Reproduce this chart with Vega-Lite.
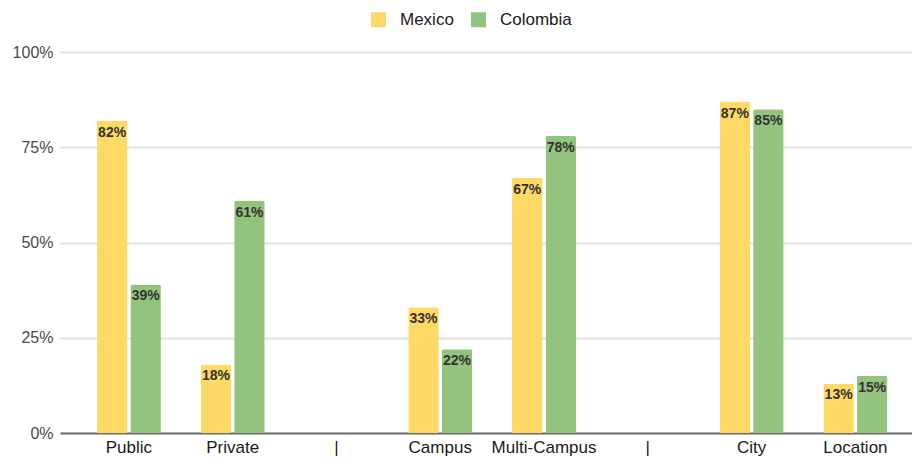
{
  "$schema": "https://vega.github.io/schema/vega-lite/v6.json",
  "width": 852,
  "height": 381,
  "autosize": {"type": "none"},
  "padding": {"left": 60, "top": 52, "right": 0, "bottom": 28},
  "background": "white",
  "config": {
    "view": {"stroke": null},
    "font": "Liberation Sans"
  },
  "data": {
    "values": [
      {"category": "Public", "country": "Mexico", "share": 0.82},
      {"category": "Public", "country": "Colombia", "share": 0.39},
      {"category": "Private", "country": "Mexico", "share": 0.18},
      {"category": "Private", "country": "Colombia", "share": 0.61},
      {"category": "Campus", "country": "Mexico", "share": 0.33},
      {"category": "Campus", "country": "Colombia", "share": 0.22},
      {"category": "Multi-Campus", "country": "Mexico", "share": 0.67},
      {"category": "Multi-Campus", "country": "Colombia", "share": 0.78},
      {"category": "City", "country": "Mexico", "share": 0.87},
      {"category": "City", "country": "Colombia", "share": 0.85},
      {"category": "Location", "country": "Mexico", "share": 0.13},
      {"category": "Location", "country": "Colombia", "share": 0.15}
    ]
  },
  "encoding": {
    "x": {
      "field": "category",
      "type": "nominal",
      "scale": {
        "domain": ["Public", "Private", "|", "Campus", "Multi-Campus", "| ", "City", "Location"],
        "paddingInner": 0.383,
        "paddingOuter": 0.296,
        "align": 0.6
      },
      "axis": {
        "title": null,
        "labelAngle": 0,
        "labelFontSize": 17,
        "labelColor": "#1a1a1a",
        "labelPadding": 6,
        "labelExpr": "datum.label == '| ' ? '|' : datum.label",
        "ticks": false,
        "domainColor": "#6f6f6f",
        "domainWidth": 2,
        "grid": false
      }
    },
    "xOffset": {
      "field": "country",
      "type": "nominal",
      "scale": {"domain": ["Mexico", "Colombia"], "paddingInner": 0.09}
    },
    "y": {
      "field": "share",
      "type": "quantitative",
      "scale": {"domain": [0, 1]},
      "axis": {
        "title": null,
        "values": [0, 0.25, 0.5, 0.75, 1],
        "format": ".0%",
        "labelFontSize": 16,
        "labelColor": "#4a4a4a",
        "labelPadding": 7,
        "ticks": false,
        "domain": false,
        "gridColor": "#e2e2e2",
        "gridWidth": 2
      }
    }
  },
  "layer": [
    {
      "mark": {"type": "bar", "cornerRadiusTopLeft": 2, "cornerRadiusTopRight": 2},
      "encoding": {
        "color": {
          "field": "country",
          "type": "nominal",
          "scale": {"domain": ["Mexico", "Colombia"], "range": ["#ffd966", "#93c47d"]},
          "legend": {
            "title": null,
            "orient": "none",
            "direction": "horizontal",
            "legendX": 310,
            "legendY": -41,
            "padding": 0,
            "symbolType": "square",
            "symbolSize": 225,
            "symbolStrokeWidth": 0,
            "symbolOpacity": 1,
            "labelFontSize": 17,
            "labelColor": "#1a1a1a",
            "labelOffset": 13,
            "columnPadding": 16
          }
        }
      }
    },
    {
      "mark": {"type": "text", "baseline": "top", "dy": 5, "fontSize": 14, "fontWeight": "bold", "color": "#333333"},
      "encoding": {
        "text": {"field": "share", "type": "quantitative", "format": ".0%"}
      }
    }
  ]
}
